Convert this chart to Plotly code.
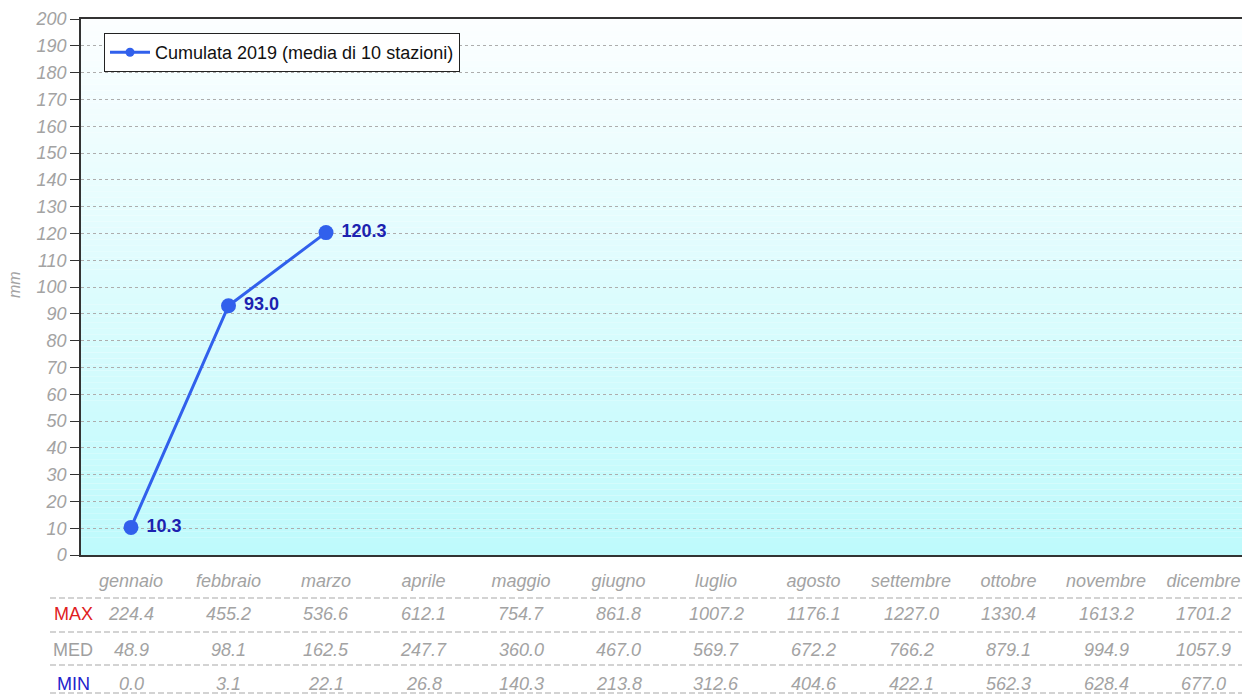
import plotly.graph_objects as go

months = ["gennaio", "febbraio", "marzo", "aprile", "maggio", "giugno",
          "luglio", "agosto", "settembre", "ottobre", "novembre", "dicembre"]
cumulata = [10.3, 93.0, 120.3]
max_vals = [224.4, 455.2, 536.6, 612.1, 754.7, 861.8, 1007.2, 1176.1, 1227.0, 1330.4, 1613.2, 1701.2]
med_vals = [48.9, 98.1, 162.5, 247.7, 360.0, 467.0, 569.7, 672.2, 766.2, 879.1, 994.9, 1057.9]
min_vals = [0.0, 3.1, 22.1, 26.8, 140.3, 213.8, 312.6, 404.6, 422.1, 562.3, 628.4, 677.0]
y_ticks = list(range(0, 201, 10))
series_name = "Cumulata 2019 (media di 10 stazioni)"

W, H = 1242, 695
L, T, B = 81, 19, 140
plot_h = H - T - B
plot_w = W - L
FONT = "Arial, 'Liberation Sans', sans-serif"
GREY = "#a3a3a3"
BLUE = "#3160ec"

def py(p):  # pixel y -> paper y
    return (H - B - p) / plot_h

def px(p):  # pixel x -> paper x
    return (p - L) / plot_w

fig = go.Figure()
fig.add_trace(go.Scatter(
    x=months[:len(cumulata)], y=cumulata,
    mode="lines+markers+text",
    name=series_name, showlegend=False,
    line=dict(color=BLUE, width=3),
    marker=dict(color=BLUE, size=15),
    texttemplate=" %{y:.1f}",
    textposition="middle right",
    textfont=dict(family=FONT, size=18, color="#1c22b0", weight="bold"),
    cliponaxis=False,
    hoverinfo="skip",
))
# legend entry (small marker as in the reference legend)
fig.add_trace(go.Scatter(
    x=[None], y=[None], mode="lines+markers", name=series_name,
    line=dict(color=BLUE, width=3), marker=dict(color=BLUE, size=9),
))

shapes = []
# background gradient bands
n = 90
top = (252, 254, 255)
bot = (190, 250, 252)
for i in range(n):
    f = (i + 0.5) / n
    c = tuple(round(top[k] + (bot[k] - top[k]) * f) for k in range(3))
    shapes.append(dict(type="rect", xref="paper", yref="paper",
                       x0=0, x1=1, y0=1 - (i + 1) / n, y1=1 - i / n,
                       fillcolor=f"rgb{c}", line=dict(width=0), layer="below"))
# table dashed lines
for p in [598, 632, 665, 693]:
    shapes.append(dict(type="line", xref="paper", yref="paper",
                       x0=px(50), x1=1, y0=py(p), y1=py(p),
                       line=dict(color="#a8a8a8", width=1.2, dash="6px,3px")))

annotations = []
rows = [("MAX", max_vals, "#e0201e", 614), ("MED", med_vals, "#a0a0a0", 650), ("MIN", min_vals, "#2222cc", 684)]
for label, vals, col, yp in rows:
    annotations.append(dict(text=label, xref="paper", yref="paper", x=px(73), y=py(yp),
                            showarrow=False, xanchor="center", yanchor="middle",
                            font=dict(family=FONT, size=18, color=col)))
    for m, v in zip(months, vals):
        annotations.append(dict(text=f"{v:.1f}", xref="x", yref="paper", x=m, y=py(yp),
                                showarrow=False, xanchor="center", yanchor="middle",
                                font=dict(family=FONT, size=18, color=GREY, style="italic")))
annotations.append(dict(text="mm", xref="paper", yref="paper", x=px(14), y=py(285),
                        showarrow=False, textangle=-90, xanchor="center", yanchor="middle",
                        font=dict(family=FONT, size=16, color=GREY, style="italic")))

fig.update_layout(
    width=W, height=H,
    margin=dict(l=L, r=0, t=T, b=B, autoexpand=False),
    paper_bgcolor="white",
    plot_bgcolor="rgba(0,0,0,0)",
    font=dict(family=FONT),
    showlegend=True,
    legend=dict(x=px(104), y=py(33), xanchor="left", yanchor="top",
                bgcolor="white", bordercolor="#222", borderwidth=1,
                font=dict(family=FONT, size=18, color="#111"),
                itemwidth=40, tracegroupgap=0),
    shapes=shapes,
    annotations=annotations,
    xaxis=dict(type="category", categoryarray=months, categoryorder="array",
               range=[-50 / 97.5, (W - 131) / 97.5],
               showgrid=False, zeroline=False,
               showline=True, linecolor="#333", linewidth=1.5, mirror=True,
               ticks="", ticklabelstandoff=9,
               tickfont=dict(family=FONT, size=18, color=GREY, style="italic")),
    yaxis=dict(range=[0, 200], tickvals=y_ticks, ticktext=[str(v) for v in y_ticks],
               showgrid=True, gridcolor="#adadad", griddash="3px,3px", gridwidth=1,
               zeroline=False, showline=True, linecolor="#333", linewidth=1.5,
               ticks="outside", ticklen=9, tickcolor="#333",
               tickfont=dict(family=FONT, size=18, color=GREY, style="italic")),
)

fig.write_html("out.html", config={"displayModeBar": False},
               post_script="document.body.style.margin='0';document.body.style.overflow='hidden';")
